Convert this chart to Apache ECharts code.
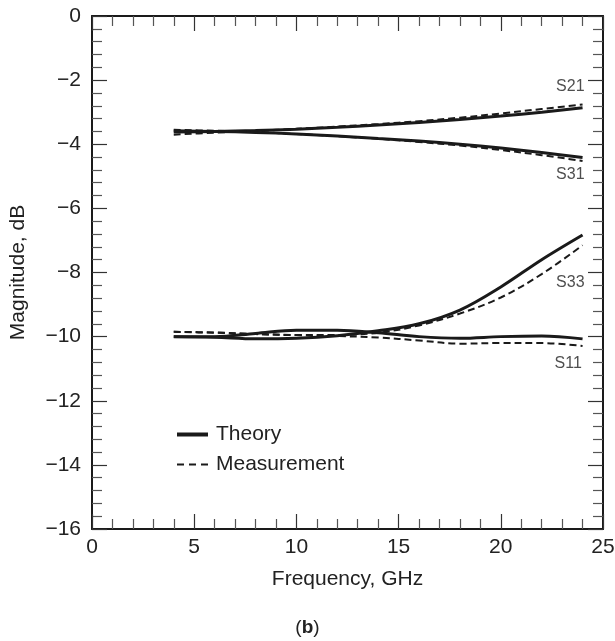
<!DOCTYPE html>
<html>
<head>
<meta charset="utf-8">
<script src="https://cdn.jsdelivr.net/npm/echarts@6/dist/echarts.min.js"></script>
<style>
  html, body { margin: 0; padding: 0; background: #fff; }
  #main { width: 615px; height: 641px; }
</style>
</head>
<body>
<div id="main"></div>
<script>
var freq = [4, 6, 8, 10, 12, 14, 16, 18, 20, 22, 24];

var s21Theory = [-3.62, -3.60, -3.57, -3.53, -3.47, -3.40, -3.32, -3.23, -3.12, -3.00, -2.86];
var s21Meas   = [-3.70, -3.64, -3.58, -3.52, -3.45, -3.37, -3.28, -3.17, -3.04, -2.90, -2.76];
var s31Theory = [-3.58, -3.60, -3.63, -3.68, -3.74, -3.82, -3.90, -4.00, -4.12, -4.26, -4.41];
var s31Meas   = [-3.55, -3.58, -3.62, -3.68, -3.75, -3.83, -3.93, -4.04, -4.18, -4.34, -4.52];
var s33Theory = [-10.00, -10.02, -10.07, -10.05, -9.97, -9.82, -9.60, -9.17, -8.45, -7.60, -6.83];
var s33Meas   = [-9.85, -9.88, -9.92, -9.95, -9.95, -9.88, -9.65, -9.28, -8.78, -8.05, -7.15];
var s11Theory = [-10.00, -10.00, -9.90, -9.80, -9.80, -9.88, -10.00, -10.05, -10.00, -9.98, -10.07];
var s11Meas   = [-9.85, -9.87, -9.92, -9.95, -9.98, -10.03, -10.12, -10.22, -10.20, -10.20, -10.29];

// curve labels: [name, freq, magnitude]
var curveLabels = [
    ['S21', 23.4, -2.21],
    ['S31', 23.4, -4.96],
    ['S33', 23.4, -8.30],
    ['S11', 23.3, -10.85]
];

var ink = '#1a1a1a';
var font = 'Liberation Sans, Arial, sans-serif';

function pairs(ys) {
    return freq.map(function (f, i) { return [f, ys[i]]; });
}

function theory(ys) {
    return {
        name: 'Theory',
        type: 'line',
        data: pairs(ys),
        smooth: 0.35,
        symbol: 'none',
        lineStyle: { color: ink, width: 3, type: 'solid' },
        itemStyle: { color: ink },
        z: 3
    };
}

function measurement(ys) {
    return {
        name: 'Measurement',
        type: 'line',
        data: pairs(ys),
        smooth: 0.35,
        symbol: 'none',
        lineStyle: { color: ink, width: 2, type: [7, 4] },
        itemStyle: { color: ink },
        z: 4
    };
}

function minus(v) {
    return String(v).replace('-', '\u2212');
}

var chartDom = document.getElementById('main');
var myChart = echarts.init(chartDom);

var tickCommon = {
    axisLine: { show: true, onZero: false, lineStyle: { color: ink, width: 2 } },
    axisTick: { show: true, inside: true, length: 15, lineStyle: { color: '#333', width: 1.2 } },
    minorTick: { show: true, splitNumber: 5, length: 10, lineStyle: { color: '#555', width: 1.2 } },
    splitLine: { show: false }
};

var series = [
    theory(s21Theory), measurement(s21Meas),
    theory(s31Theory), measurement(s31Meas),
    theory(s33Theory), measurement(s33Meas),
    theory(s11Theory), measurement(s11Meas)
];

series.push({
    name: 'labels',
    type: 'scatter',
    symbolSize: 0,
    silent: true,
    data: curveLabels.map(function (l) { return { value: [l[1], l[2]], name: l[0] }; }),
    label: {
        show: true,
        position: 'inside',
        formatter: function (p) { return p.name; },
        color: '#222',
        fontSize: 16,
        fontFamily: font
    }
});

var option = {
    animation: false,
    textStyle: { fontFamily: font },
    grid: { left: 92, right: 12, top: 16, bottom: 112, containLabel: false, outerBoundsMode: 'none' },
    title: {
        text: '({b|b})',
        left: 'center',
        top: 613,
        textStyle: {
            fontSize: 19,
            fontWeight: 'normal',
            color: '#222',
            rich: { b: { fontSize: 19, fontWeight: 'bold', color: '#222' } }
        }
    },
    legend: {
        data: [
            { name: 'Theory', lineStyle: { width: 4 } },
            { name: 'Measurement', lineStyle: { width: 2, type: [7, 5] } }
        ],
        orient: 'vertical',
        left: 170,
        top: 419,
        itemWidth: 31,
        itemHeight: 20,
        itemGap: 9,
        itemStyle: { opacity: 0 },
        textStyle: { fontSize: 21, color: '#222', padding: [0, 0, 0, 3] }
    },
    xAxis: [
        Object.assign({
            type: 'value',
            min: 0,
            max: 25,
            interval: 5,
            name: 'Frequency, GHz',
            nameLocation: 'middle',
            nameGap: 40,
            nameTextStyle: { fontSize: 21, color: '#222' },
            axisLabel: { fontSize: 21, color: '#222', margin: 8 }
        }, tickCommon),
        Object.assign({
            type: 'value',
            position: 'top',
            min: 0,
            max: 25,
            interval: 5,
            axisLabel: { show: false }
        }, tickCommon)
    ],
    yAxis: [
        Object.assign({
            type: 'value',
            min: -16,
            max: 0,
            interval: 2,
            name: 'Magnitude, dB',
            nameLocation: 'middle',
            nameGap: 63,
            nameTextStyle: { fontSize: 21, color: '#222' },
            axisLabel: { fontSize: 21, color: '#222', margin: 11, formatter: minus }
        }, tickCommon),
        Object.assign({
            type: 'value',
            position: 'right',
            min: -16,
            max: 0,
            interval: 2,
            axisLabel: { show: false }
        }, tickCommon)
    ],
    series: series
};

option && myChart.setOption(option);
</script>
</body>
</html>
